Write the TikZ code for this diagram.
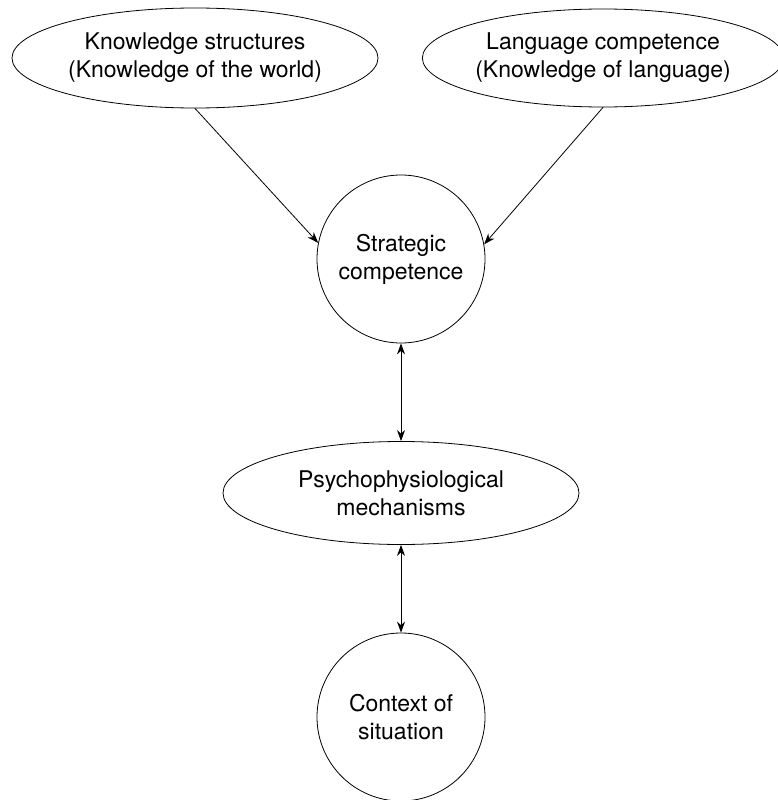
\documentclass[tikz,border=0pt]{standalone}
\usepackage{fontspec}
\setmainfont{TeX Gyre Heros}
\usetikzlibrary{shapes.geometric,arrows.meta}
\begin{document}
\begin{tikzpicture}[x=1pt, y=-1pt, line width=0.8pt, line join=round, line cap=round, >={Stealth[length=11pt,width=8pt]},
	oval/.style={draw, ellipse, inner sep=0pt, align=center, font=\fontsize{23}{28}\selectfont},
	ring/.style={draw, circle, minimum size=168pt, inner sep=0pt, align=center, font=\fontsize{23}{28}\selectfont}]
	\useasboundingbox (0,0) rectangle (777,800);
	% sources
	\node[oval, minimum width=366pt, minimum height=100pt] (know) at (195,58) {Knowledge structures\\(Knowledge of the world)};
	\node[oval, minimum width=350pt, minimum height=98pt] (lang) at (603,58) {Language competence\\(Knowledge of language)};
	% centre column
	\node[ring] (strat) at (401,259) {Strategic\\competence};
	\node[oval, minimum width=356pt, minimum height=103pt] (psych) at (401,493) {Psychophysiological\\mechanisms};
	\node[ring] (ctx) at (401,717) {Context of\\situation};
	\draw[->] (know.south) -- (strat.169);
	\draw[->] (lang.south) -- (strat.10);
	\draw[<->] (strat) -- (psych);
	\draw[<->] (psych) -- (ctx);
\end{tikzpicture}
\end{document}
